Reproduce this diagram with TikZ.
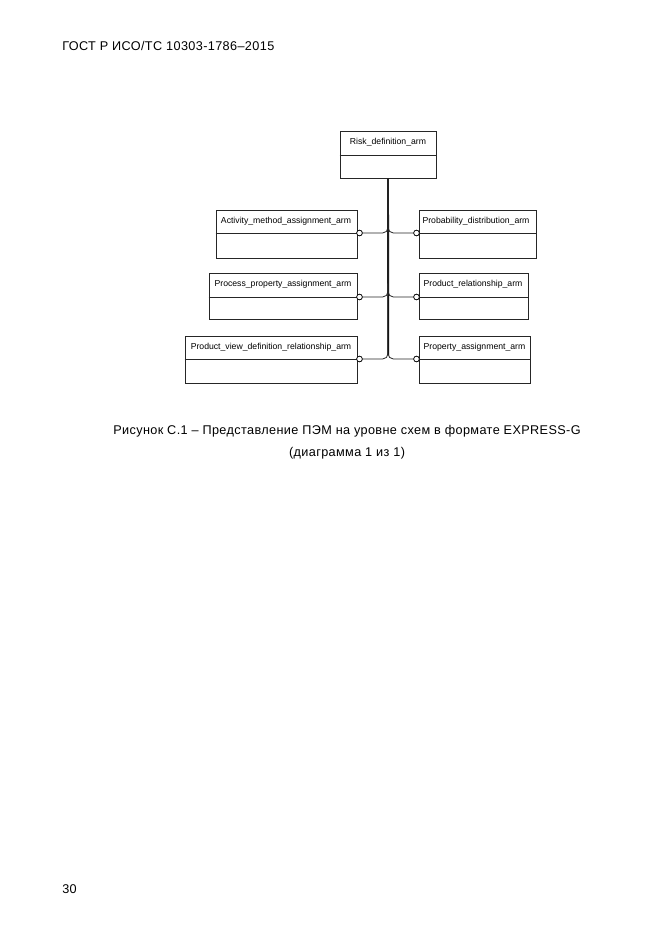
\documentclass[tikz,border=0pt]{standalone}
\usepackage{fontspec}
\setmainfont{Liberation Sans}
\usetikzlibrary{fit}
\begin{document}
\begin{tikzpicture}[x=0.75pt,y=-0.75pt,
  ebox/.style={draw=black!85, line width=0.6pt, inner sep=0pt},
  etext/.style={anchor=center, inner sep=0pt, font=\fontsize{6.5}{8}\selectfont},
  divline/.style={draw=black!85, line width=0.6pt},
  trunk/.style={line width=1.4pt, black},
  branch/.style={line width=0.6pt, black!85, rounded corners=4pt},
  ring/.style={circle, draw=black, line width=0.5pt, fill=white, inner sep=0pt, minimum size=4.2pt},
  pagetext/.style={inner sep=0pt, font=\fontsize{9.5}{11}\selectfont\addfontfeature{LetterSpace=3}}]
\useasboundingbox (0,0) rectangle (661,935);
\fill[white] (0,0) rectangle (661,935);

\node[pagetext, anchor=west] (head) at (62,46) {ГОСТ Р ИСО/ТС 10303-1786–2015};
\node[pagetext, anchor=west] (pnum) at (62,889) {30};
\node[pagetext] (cap1) at (347,431) {Рисунок С.1 – Представление ПЭМ на уровне схем в формате EXPRESS-G};
\node[pagetext] (cap2) at (347,453) {(диаграмма 1 из 1)};

% boxes
\node[ebox, fit={(340,131) (436,178)}] (risk) {};
\draw[divline] (risk.west |- 0,155) -- (risk.east |- 0,155);
\node[etext] (risk-t) at (388,142.5) {Risk\_definition\_arm};

\node[ebox, fit={(216,210) (357,258)}] (act) {};
\draw[divline] (act.west |- 0,233) -- (act.east |- 0,233);
\node[etext] (act-t) at (286,221.5) {Activity\_method\_assignment\_arm};

\node[ebox, fit={(419,210) (536,258)}] (prob) {};
\draw[divline] (prob.west |- 0,233) -- (prob.east |- 0,233);
\node[etext] (prob-t) at (476,221.5) {Probability\_distribution\_arm};

\node[ebox, fit={(209,273) (357,319)}] (proc) {};
\draw[divline] (proc.west |- 0,297) -- (proc.east |- 0,297);
\node[etext] (proc-t) at (283,284.5) {Process\_property\_assignment\_arm};

\node[ebox, fit={(419,273) (528,319)}] (prel) {};
\draw[divline] (prel.west |- 0,297) -- (prel.east |- 0,297);
\node[etext] (prel-t) at (473,284.5) {Product\_relationship\_arm};

\node[ebox, fit={(185,336) (357,383)}] (pvd) {};
\draw[divline] (pvd.west |- 0,359) -- (pvd.east |- 0,359);
\node[etext] (pvd-t) at (271,347.5) {Product\_view\_definition\_relationship\_arm};

\node[ebox, fit={(419,336) (530,383)}] (pass) {};
\draw[divline] (pass.west |- 0,359) -- (pass.east |- 0,359);
\node[etext] (pass-t) at (474.5,347.5) {Property\_assignment\_arm};

% rings
\node[ring] (r1) at (359.5,233) {};
\node[ring] (r2) at (416.5,233) {};
\node[ring] (r3) at (359.5,297) {};
\node[ring] (r4) at (416.5,297) {};
\node[ring] (r5) at (359.5,359) {};
\node[ring] (r6) at (416.5,359) {};

% connectors
\coordinate (tend) at (388.3,355);
\draw[trunk] (risk.south) -- (tend);
\foreach \r in {r1,r2,r3,r4,r5,r6}{
  \draw[branch] (risk.south) -- (risk.south |- \r) -- (\r);
}
\foreach \r in {r1,r2,r3,r4,r5,r6}{
  \node[ring] at (\r) {};
}
\end{tikzpicture}
\end{document}
